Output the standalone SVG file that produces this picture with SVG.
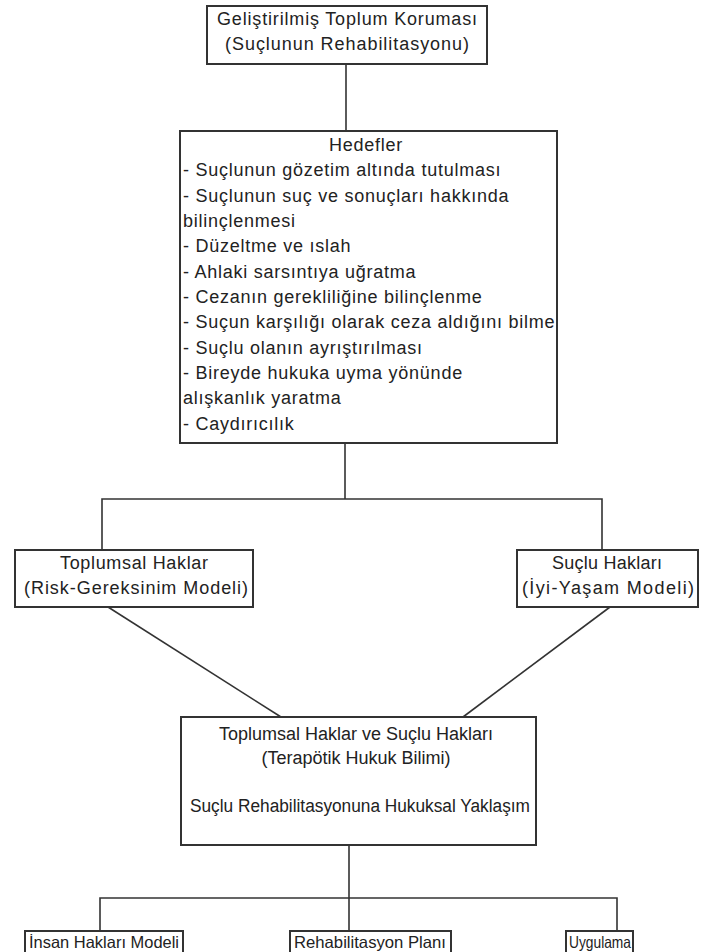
<svg xmlns="http://www.w3.org/2000/svg" width="702" height="952" viewBox="0 0 702 952">
<style>
rect{fill:#fff;stroke:#333;stroke-width:2}
text{font-family:"Liberation Sans",Arial,sans-serif;font-size:18px;fill:#222}
.c{text-anchor:middle}
.w{letter-spacing:0.75px}
.s{font-size:16.5px}
#connectors path,#connectors line{stroke:#333;stroke-width:1.6;fill:none}
</style>
<rect x="0" y="0" width="702" height="952" style="stroke:none"/>
<g id="connectors">
<path d="M346 64V131"/>
<path d="M345 443V499M102 550V499H602V550"/>
<line x1="108" y1="607" x2="281" y2="717"/>
<line x1="610" y1="607" x2="463" y2="717"/>
<path d="M349 845V931M100 931V898H617V931"/>
</g>
<g id="n1"><rect x="207" y="6" width="280" height="58"/>
<text class="c" x="347" y="25" textLength="260" lengthAdjust="spacing">Geliştirilmiş Toplum Koruması</text>
<text class="c" x="347" y="50" textLength="244" lengthAdjust="spacing">(Suçlunun Rehabilitasyonu)</text></g>
<g id="n2" class="w"><rect x="180" y="131" width="377" height="312"/>
<text class="c" x="366" y="151">Hedefler</text>
<text x="183" y="176">- Suçlunun gözetim altında tutulması</text>
<text x="183" y="202">- Suçlunun suç ve sonuçları hakkında</text>
<text x="183" y="227">bilinçlenmesi</text>
<text x="183" y="252">- Düzeltme ve ıslah</text>
<text x="183" y="278">- Ahlaki sarsıntıya uğratma</text>
<text x="183" y="303">- Cezanın gerekliliğine bilinçlenme</text>
<text x="183" y="328">- Suçun karşılığı olarak ceza aldığını bilme</text>
<text x="183" y="354">- Suçlu olanın ayrıştırılması</text>
<text x="183" y="379">- Bireyde hukuka uyma yönünde</text>
<text x="183" y="404">alışkanlık yaratma</text>
<text x="183" y="430">- Caydırıcılık</text></g>
<g id="n3"><rect x="15" y="550" width="238" height="57"/>
<text class="c" x="134" y="569" textLength="148" lengthAdjust="spacing">Toplumsal Haklar</text>
<text class="c" x="136" y="594" textLength="224" lengthAdjust="spacing">(Risk-Gereksinim Modeli)</text></g>
<g id="n4"><rect x="517" y="550" width="181" height="57"/>
<text class="c" x="607" y="569" textLength="110" lengthAdjust="spacing">Suçlu Hakları</text>
<text class="c" x="608" y="594" textLength="172" lengthAdjust="spacing">(İyi-Yaşam Modeli)</text></g>
<g id="n5"><rect x="181" y="717" width="355" height="128"/>
<text class="c" x="356" y="740">Toplumsal Haklar ve Suçlu Hakları</text>
<text class="c" x="356" y="764">(Terapötik Hukuk Bilimi)</text>
<text class="c" x="360" y="812" textLength="340" lengthAdjust="spacingAndGlyphs">Suçlu Rehabilitasyonuna Hukuksal Yaklaşım</text></g>
<g id="n6"><rect x="25" y="931" width="158" height="30"/>
<text class="c s" x="104" y="948" textLength="150" lengthAdjust="spacingAndGlyphs">İnsan Hakları Modeli</text></g>
<g id="n7"><rect x="290" y="931" width="161" height="30"/>
<text class="c s" x="370" y="948" textLength="152" lengthAdjust="spacingAndGlyphs">Rehabilitasyon Planı</text></g>
<g id="n8"><rect x="566" y="931" width="67" height="30"/>
<text class="c s" x="600" y="948" textLength="62" lengthAdjust="spacingAndGlyphs">Uygulama</text></g>
</svg>
